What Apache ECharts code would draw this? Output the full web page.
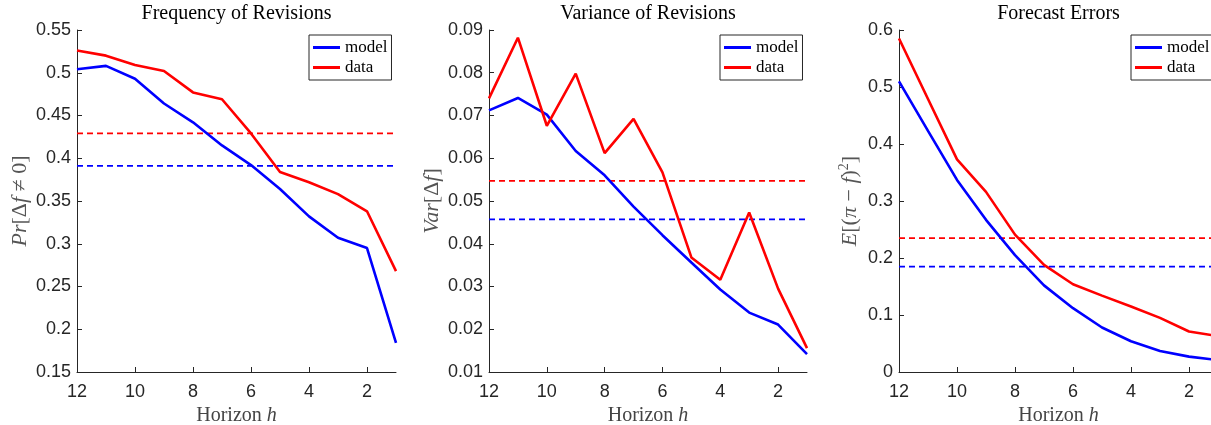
<!DOCTYPE html>
<html>
<head>
<meta charset="utf-8">
<script src="https://cdn.jsdelivr.net/npm/echarts@6/dist/echarts.min.js"></script>
<style>
  html, body { margin: 0; padding: 0; background: #fff; }
  #chart { width: 1211px; height: 425px; }
</style>
</head>
<body>
<div id="chart"></div>
<script>
// horizon h, 12 down to 1
var horizons = [12, 11, 10, 9, 8, 7, 6, 5, 4, 3, 2, 1];
var xTicks = [12, 10, 8, 6, 4, 2];

// Frequency of revisions
var freqModel = [0.504, 0.508, 0.493, 0.464, 0.442, 0.415, 0.392, 0.364, 0.332, 0.307, 0.295, 0.184];
var freqData = [0.526, 0.520, 0.509, 0.502, 0.477, 0.469, 0.429, 0.384, 0.372, 0.358, 0.338, 0.268];
var freqMeans = [0.391, 0.429]; // model, data

// Variance of revisions
var varModel = [0.0712, 0.0741, 0.0702, 0.0617, 0.0560, 0.0487, 0.0420, 0.0356, 0.0293, 0.0239, 0.0211, 0.0142];
var varData = [0.0740, 0.0882, 0.0676, 0.0798, 0.0612, 0.0692, 0.0567, 0.0368, 0.0316, 0.0473, 0.0295, 0.0156];
var varMeans = [0.0457, 0.0547];

// Forecast errors
var errModel = [0.510, 0.423, 0.337, 0.267, 0.205, 0.152, 0.112, 0.078, 0.054, 0.037, 0.027, 0.021];
var errData = [0.585, 0.479, 0.373, 0.316, 0.241, 0.188, 0.154, 0.134, 0.115, 0.095, 0.071, 0.063];
var errMeans = [0.185, 0.235];

var titles = ['Frequency of Revisions', 'Variance of Revisions', 'Forecast Errors'];

var BLUE = '#0000ff', RED = '#ff0000';
var SERIF = '"Liberation Serif", "DejaVu Serif", serif';
var SANS = '"Liberation Sans", Arial, sans-serif';

var chart = echarts.init(document.getElementById('chart'));

var panels = [
  { left: 77, width: 319, min: 0.15, max: 0.55, step: 0.05, gap: 46,
    yName: '{i|Pr}{n|[Δ}{i|f}{n| ≠ 0]}', model: freqModel, data: freqData, means: freqMeans },
  { left: 489, width: 318, min: 0.01, max: 0.09, step: 0.01, gap: 46,
    yName: '{i|Var}{n|[Δ}{i|f}{n|]}', model: varModel, data: varData, means: varMeans },
  { left: 899, width: 319, min: 0, max: 0.6, step: 0.1, gap: 35,
    yName: '{i|E}{n|[(}{i|π}{n| − }{i|f}{n|)}{s|2}{n|]}', model: errModel, data: errData, means: errMeans }
];

function pairs(vals) {
  return horizons.map(function (h, i) { return [h, vals[i]]; });
}

var xNameRich = {
  n: { fontFamily: SERIF, fontSize: 20, color: '#444' },
  i: { fontFamily: SERIF, fontSize: 20, fontStyle: 'italic', color: '#444' }
};
var yNameRich = {
  n: { fontFamily: SERIF, fontSize: 22, color: '#555' },
  i: { fontFamily: SERIF, fontSize: 22, fontStyle: 'italic', color: '#555' },
  s: { fontFamily: SERIF, fontSize: 14, color: '#555', padding: [0, 0, 13, 0] }
};

var option = {
  animation: false,
  backgroundColor: '#fff',
  title: [], grid: [], xAxis: [], yAxis: [], legend: [], series: []
};

panels.forEach(function (p, k) {
  option.title.push({
    text: titles[k],
    left: p.left + p.width / 2,
    top: 4,
    padding: 0,
    textAlign: 'center',
    textStyle: { fontFamily: SERIF, fontSize: 20, fontWeight: 'normal', color: '#000' }
  });
  option.grid.push({ left: p.left, top: 30, width: p.width, height: 342, outerBoundsMode: 'none' });
  option.xAxis.push({
    type: 'value', gridIndex: k, min: 1, max: 12, inverse: true,
    name: '{n|Horizon }{i|h}', nameLocation: 'middle', nameGap: 32,
    nameTextStyle: { rich: xNameRich },
    axisLine: { lineStyle: { color: '#262626', width: 1 } },
    axisTick: { inside: true, length: 5, customValues: xTicks, lineStyle: { color: '#262626' } },
    axisLabel: { customValues: xTicks, margin: 11, fontFamily: SANS, fontSize: 18, color: '#262626' },
    splitLine: { show: false }
  });
  option.yAxis.push({
    type: 'value', gridIndex: k, min: p.min, max: p.max, interval: p.step,
    name: p.yName, nameLocation: 'middle', nameGap: p.gap, nameRotate: 90,
    nameTextStyle: { rich: yNameRich },
    axisLine: { show: true, lineStyle: { color: '#262626', width: 1 } },
    axisTick: { show: true, inside: true, length: 5, lineStyle: { color: '#262626' } },
    axisLabel: {
      margin: 6, fontFamily: SANS, fontSize: 18, color: '#262626',
      formatter: function (v) { return String(+v.toFixed(4)); }
    },
    splitLine: { show: false }
  });
  option.legend.push({
    data: ['model', 'data'],
    orient: 'vertical',
    left: p.left + p.width - 87, top: 35,
    padding: [4, 4, 4, 4],
    itemGap: 3,
    icon: 'rect', itemWidth: 27, itemHeight: 3,
    borderColor: '#262626', borderWidth: 1, borderRadius: 0,
    backgroundColor: '#fff',
    textStyle: { fontFamily: SERIF, fontSize: 17, color: '#000' },
    selectedMode: false
  });
  // dashed averages first so solid lines sit on top
  [[p.means[0], BLUE, 'model mean'], [p.means[1], RED, 'data mean']].forEach(function (m) {
    option.series.push({
      name: m[2], type: 'line', xAxisIndex: k, yAxisIndex: k,
      data: [[horizons[0], m[0]], [horizons[horizons.length - 1], m[0]]],
      showSymbol: false, silent: true, color: m[1],
      lineStyle: { color: m[1], width: 1.8, type: [6, 4] }
    });
  });
  option.series.push({
    name: 'model', type: 'line', xAxisIndex: k, yAxisIndex: k,
    data: pairs(p.model), showSymbol: false, color: BLUE,
    lineStyle: { color: BLUE, width: 2.6 }
  });
  option.series.push({
    name: 'data', type: 'line', xAxisIndex: k, yAxisIndex: k,
    data: pairs(p.data), showSymbol: false, color: RED,
    lineStyle: { color: RED, width: 2.6 }
  });
});

chart.setOption(option);
</script>
</body>
</html>
